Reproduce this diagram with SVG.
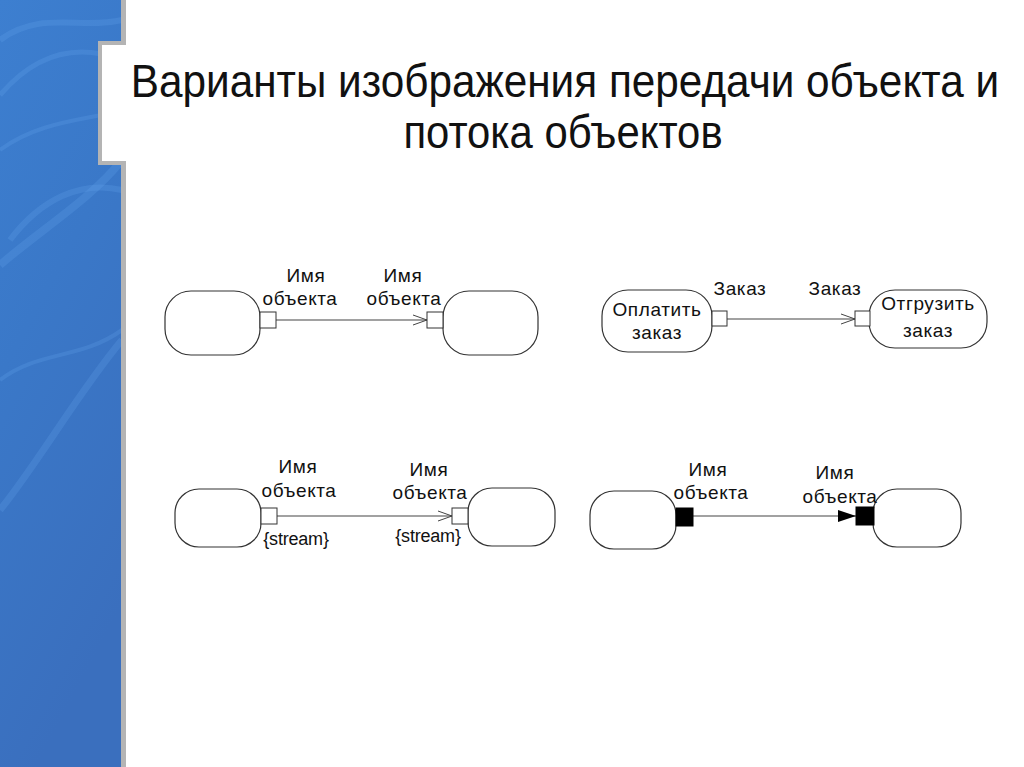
<svg xmlns="http://www.w3.org/2000/svg" width="1024" height="767" viewBox="0 0 1024 767">
<defs>
<linearGradient id="bg" x1="0" y1="0" x2="0.3" y2="1">
<stop offset="0" stop-color="#3d7fd0"/>
<stop offset="0.45" stop-color="#3a78c8"/>
<stop offset="1" stop-color="#3a6fbe"/>
</linearGradient>
<marker id="open" viewBox="0 0 16 12" refX="15" refY="6" markerWidth="16" markerHeight="12" markerUnits="userSpaceOnUse" orient="auto">
<path d="M1,1 L15,6 L1,11" fill="none" stroke="#444" stroke-width="1"/>
</marker>
<marker id="solid" viewBox="0 0 18 12" refX="18" refY="6" markerWidth="18" markerHeight="12" markerUnits="userSpaceOnUse" orient="auto">
<path d="M0,0 L18,6 L0,12 Z" fill="#000"/>
</marker>
</defs>
<style>
.act{fill:#fff;stroke:#333;stroke-width:1.2}
.pin{fill:#fff;stroke:#333;stroke-width:1}
.pinf{fill:#000;stroke:#000;stroke-width:1}
.flow{fill:none;stroke:#444;stroke-width:1.2}
.lbl{font-family:"Liberation Sans",Arial,sans-serif;font-size:19px;fill:#111;text-anchor:middle;letter-spacing:0.6px}
.st{letter-spacing:-0.2px;font-size:18px}
.ttl{font-family:"Liberation Sans",Arial,sans-serif;font-size:47px;fill:#111;text-anchor:middle}
.streak{fill:none;stroke:#6fb0f5;stroke-opacity:0.2}
</style>
<rect x="0" y="0" width="1024" height="767" fill="#fff"/>
<g id="sidebar">
<rect x="0" y="0" width="122" height="767" fill="url(#bg)"/>
<path class="streak" stroke-width="6" d="M0,40 C40,10 80,30 122,20"/>
<path class="streak" stroke-width="5" d="M0,95 C30,60 70,40 122,60"/>
<path class="streak" stroke-width="4" d="M0,150 C40,120 90,120 122,110"/>
<path class="streak" stroke-width="8" d="M0,265 C40,230 90,200 122,160"/>
<path class="streak" stroke-width="6" d="M10,240 C40,200 80,180 122,190"/>
<path class="streak" stroke-width="7" d="M0,510 C40,460 80,390 122,340"/>
<path class="streak" stroke-width="4" d="M0,380 C40,350 80,360 122,330"/>
<rect x="121" y="0" width="5" height="767" fill="#b4b4b4"/>
<path d="M126,41 L98,41 L98,165 L126,165 L126,161 L102,161 L102,45 L126,45 Z" fill="#b4b4b4"/>
<rect x="102" y="45" width="24" height="116" fill="#fff"/>
</g>
<g id="title">
<text class="ttl" transform="translate(565,97) scale(0.9,1)">Варианты изображения передачи объекта и</text>
<text class="ttl" transform="translate(563,148) scale(0.89,1)">потока объектов</text>
</g>
<g id="connectors">
<line class="flow" x1="276" y1="320" x2="427" y2="320" marker-end="url(#open)"/>
<line class="flow" x1="727" y1="319" x2="855" y2="319" marker-end="url(#open)"/>
<line class="flow" x1="277" y1="516" x2="452" y2="516" marker-end="url(#open)"/>
<line class="flow" x1="693" y1="516" x2="856" y2="516" marker-end="url(#solid)"/>
</g>
<g id="d1-src">
<rect class="act" x="165" y="291" width="95" height="64" rx="26"/>
<rect class="pin" x="260" y="312" width="16" height="16"/>
<text class="lbl" x="306" y="282">Имя</text>
<text class="lbl" x="300" y="305">объекта</text>
</g>
<g id="d1-dst">
<rect class="act" x="443" y="291" width="95" height="64" rx="26"/>
<rect class="pin" x="427" y="312" width="16" height="16"/>
<text class="lbl" x="403" y="282">Имя</text>
<text class="lbl" x="404" y="305">объекта</text>
</g>
<g id="d2-src">
<rect class="act" x="602" y="290" width="110" height="62" rx="26"/>
<text class="lbl" x="657" y="316">Оплатить</text>
<text class="lbl" x="657" y="339">заказ</text>
<rect class="pin" x="712" y="311" width="15" height="15"/>
<text class="lbl" x="740" y="295">Заказ</text>
</g>
<g id="d2-dst">
<rect class="act" x="869" y="290" width="118" height="58" rx="26"/>
<text class="lbl" x="928" y="310">Отгрузить</text>
<text class="lbl" x="928" y="337">заказ</text>
<rect class="pin" x="855" y="311" width="15" height="15"/>
<text class="lbl" x="835" y="295">Заказ</text>
</g>
<g id="d3-src">
<rect class="act" x="175" y="489" width="86" height="58" rx="24"/>
<rect class="pin" x="261" y="508" width="16" height="16"/>
<text class="lbl" x="298" y="473">Имя</text>
<text class="lbl" x="299" y="497">объекта</text>
<text class="lbl st" x="296" y="545">{stream}</text>
</g>
<g id="d3-dst">
<rect class="act" x="468" y="488" width="87" height="58" rx="24"/>
<rect class="pin" x="452" y="508" width="16" height="16"/>
<text class="lbl" x="429" y="476">Имя</text>
<text class="lbl" x="430" y="499">объекта</text>
<text class="lbl st" x="428" y="542">{stream}</text>
</g>
<g id="d4-src">
<rect class="act" x="590" y="491" width="86" height="58" rx="24"/>
<rect class="pinf" x="676" y="508" width="17" height="18"/>
<text class="lbl" x="708" y="476">Имя</text>
<text class="lbl" x="711" y="499">объекта</text>
</g>
<g id="d4-dst">
<rect class="act" x="873" y="489" width="88" height="58" rx="24"/>
<rect class="pinf" x="856" y="507" width="18" height="18"/>
<text class="lbl" x="835" y="479">Имя</text>
<text class="lbl" x="840" y="503">объекта</text>
</g>
</svg>
